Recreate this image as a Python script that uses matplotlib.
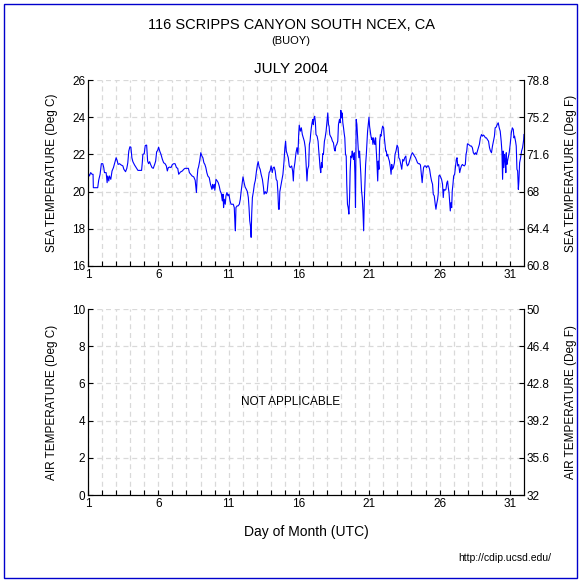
import matplotlib
matplotlib.use("Agg")
import matplotlib.pyplot as plt
import matplotlib.patches as mpatches
import numpy as np

plt.rcParams["font.family"] = ["Liberation Sans", "DejaVu Sans"]

# sea temperature (deg C), day of month (UTC)
sea_day = [
    1.00, 1.10, 1.19, 1.29, 1.36, 1.38, 1.69, 1.76, 1.86, 1.95, 2.05, 2.12, 2.17, 2.29, 2.36, 2.40,
    2.48, 2.52, 2.62, 2.71, 2.81, 2.90, 3.00, 3.07, 3.14, 3.24, 3.36, 3.48, 3.55, 3.67, 3.76, 3.83,
    3.90, 3.98, 4.05, 4.12, 4.19, 4.31, 4.43, 4.55, 4.67, 4.81, 4.86, 4.90, 5.00, 5.07, 5.17, 5.24,
    5.31, 5.38, 5.45, 5.55, 5.64, 5.74, 5.81, 5.88, 5.95, 6.02, 6.10, 6.19, 6.29, 6.38, 6.48, 6.57,
    6.64, 6.71, 6.81, 6.90, 7.00, 7.10, 7.19, 7.29, 7.38, 7.45, 7.57, 7.71, 7.81, 7.90, 8.05, 8.14,
    8.21, 8.31, 8.40, 8.52, 8.62, 8.67, 8.71, 8.76, 8.81, 8.86, 8.95, 9.02, 9.10, 9.17, 9.24, 9.31,
    9.38, 9.45, 9.52, 9.62, 9.71, 9.81, 9.86, 9.90, 9.98, 10.02, 10.10, 10.19, 10.26, 10.33, 10.40,
    10.48, 10.55, 10.60, 10.64, 10.69, 10.76, 10.81, 10.88, 10.95, 11.02, 11.10, 11.17, 11.24, 11.33,
    11.40, 11.45, 11.48, 11.52, 11.60, 11.67, 11.76, 11.83, 11.88, 11.95, 12.02, 12.10, 12.17, 12.26,
    12.33, 12.40, 12.45, 12.50, 12.55, 12.60, 12.64, 12.69, 12.76, 12.83, 12.90, 12.98, 13.05, 13.10,
    13.17, 13.24, 13.31, 13.40, 13.48, 13.52, 13.60, 13.67, 13.74, 13.81, 13.88, 13.95, 14.02, 14.10,
    14.17, 14.24, 14.31, 14.38, 14.45, 14.50, 14.55, 14.60, 14.64, 14.71, 14.79, 14.86, 14.93, 15.00,
    15.05, 15.10, 15.17, 15.24, 15.31, 15.38, 15.48, 15.55, 15.60, 15.64, 15.71, 15.79, 15.86, 15.93,
    15.98, 16.02, 16.10, 16.17, 16.24, 16.31, 16.38, 16.45, 16.52, 16.57, 16.62, 16.69, 16.74, 16.79,
    16.83, 16.88, 16.93, 16.98, 17.02, 17.07, 17.12, 17.17, 17.21, 17.29, 17.36, 17.40, 17.45, 17.50,
    17.55, 17.60, 17.64, 17.69, 17.74, 17.81, 17.86, 17.93, 18.00, 18.05, 18.10, 18.14, 18.19, 18.24,
    18.31, 18.38, 18.45, 18.52, 18.57, 18.62, 18.69, 18.76, 18.81, 18.88, 18.93, 18.98, 19.02, 19.07,
    19.12, 19.17, 19.21, 19.26, 19.31, 19.36, 19.40, 19.45, 19.50, 19.55, 19.60, 19.64, 19.69, 19.74,
    19.79, 19.83, 19.88, 19.93, 19.98, 20.02, 20.07, 20.12, 20.17, 20.21, 20.26, 20.31, 20.36, 20.40,
    20.45, 20.50, 20.55, 20.60, 20.64, 20.69, 20.74, 20.79, 20.83, 20.88, 20.93, 20.98, 21.02, 21.07,
    21.12, 21.17, 21.21, 21.26, 21.31, 21.36, 21.40, 21.45, 21.50, 21.55, 21.60, 21.64, 21.69, 21.74,
    21.79, 21.83, 21.88, 21.95, 22.02, 22.07, 22.12, 22.17, 22.21, 22.26, 22.31, 22.36, 22.43, 22.50,
    22.55, 22.60, 22.64, 22.71, 22.79, 22.83, 22.90, 22.98, 23.05, 23.10, 23.17, 23.24, 23.31, 23.38,
    23.45, 23.52, 23.60, 23.64, 23.71, 23.79, 23.86, 23.93, 24.00, 24.07, 24.14, 24.21, 24.29, 24.38,
    24.43, 24.50, 24.57, 24.64, 24.71, 24.76, 24.81, 24.86, 24.93, 25.00, 25.07, 25.14, 25.21, 25.29,
    25.36, 25.43, 25.50, 25.55, 25.62, 25.69, 25.74, 25.79, 25.86, 25.90, 25.95, 26.00, 26.07, 26.14,
    26.21, 26.26, 26.31, 26.38, 26.45, 26.52, 26.57, 26.62, 26.67, 26.71, 26.76, 26.81, 26.86, 26.90,
    26.95, 27.00, 27.07, 27.14, 27.19, 27.24, 27.29, 27.36, 27.43, 27.48, 27.55, 27.62, 27.69, 27.76,
    27.83, 27.88, 27.93, 27.98, 28.05, 28.12, 28.19, 28.26, 28.33, 28.40, 28.48, 28.55, 28.62, 28.69,
    28.76, 28.83, 28.90, 28.98, 29.05, 29.12, 29.19, 29.26, 29.33, 29.40, 29.48, 29.55, 29.62, 29.69,
    29.76, 29.83, 29.90, 29.95, 30.02, 30.10, 30.17, 30.24, 30.31, 30.38, 30.43, 30.48, 30.52, 30.57,
    30.62, 30.67, 30.71, 30.74, 30.79, 30.83, 30.88, 30.95, 31.02, 31.10, 31.17, 31.24, 31.29, 31.33,
    31.40, 31.45, 31.50, 31.55, 31.60, 31.64, 31.69, 31.76, 31.83, 31.90, 31.98, 32.00,
]
sea_temp = [
    21.02, 20.84, 21.02, 20.93, 20.93, 20.21, 20.21, 20.61, 20.93, 21.50, 21.50, 21.29, 21.02, 21.02, 20.48, 20.84,
    20.57, 20.84, 20.66, 21.11, 21.29, 21.55, 21.82, 21.68, 21.46, 21.50, 21.43, 21.38, 21.20, 21.07, 21.25, 21.55,
    22.18, 22.41, 22.39, 21.82, 21.61, 21.43, 21.29, 21.14, 21.14, 21.14, 21.55, 22.00, 22.04, 22.48, 22.50, 21.64,
    21.50, 21.61, 21.46, 21.29, 21.25, 21.46, 21.64, 22.14, 22.21, 22.39, 22.18, 22.00, 21.73, 21.55, 21.50, 21.38,
    21.11, 21.29, 21.32, 21.29, 21.46, 21.50, 21.50, 21.29, 21.25, 20.93, 21.05, 21.11, 21.20, 21.25, 21.25, 21.25,
    21.02, 20.93, 20.84, 20.79, 20.61, 20.21, 19.95, 20.75, 21.20, 21.32, 21.68, 22.09, 21.91, 21.82, 21.55, 21.46,
    21.29, 21.02, 20.84, 20.75, 20.39, 20.12, 20.39, 20.18, 20.39, 20.07, 20.66, 20.57, 20.48, 20.30, 20.04,
    19.89, 19.50, 19.86, 19.14, 19.59, 19.32, 19.77, 19.95, 19.77, 19.86, 19.50, 19.32, 19.32, 19.32,
    19.14, 18.25, 17.89, 19.14, 19.23, 19.23, 19.32, 19.59, 19.95, 20.39, 20.79, 20.48, 20.25, 20.12,
    20.00, 19.68, 19.14, 18.43, 18.16, 17.54, 18.79, 19.68, 20.00, 20.39, 20.61, 21.11, 21.46, 21.61,
    21.32, 21.20, 20.93, 20.66, 20.21, 19.86, 20.00, 19.89, 20.00, 20.57, 21.02, 21.11, 21.38, 21.02,
    21.29, 21.32, 21.11, 20.66, 20.57, 20.00, 19.05, 19.05, 20.00, 20.30, 20.66, 20.93, 21.55, 22.36,
    22.71, 22.18, 22.00, 21.82, 21.38, 21.29, 21.38, 21.11, 20.57, 21.20, 21.55, 22.09, 22.36, 22.00,
    23.07, 23.57, 23.25, 23.43, 23.07, 22.89, 22.71, 22.36, 21.29, 20.57, 21.20, 21.38, 22.54, 22.71,
    23.07, 23.43, 23.70, 23.88, 23.61, 23.96, 24.05, 23.70, 23.07, 22.98, 22.71, 22.27, 21.82, 21.29,
    21.02, 21.55, 21.29, 22.04, 22.00, 22.71, 22.89, 23.25, 23.79, 24.23, 23.61, 23.52, 23.07, 22.98,
    22.89, 22.71, 22.63, 22.27, 22.18, 22.45, 22.54, 22.71, 23.61, 23.88, 23.70, 24.37, 23.96, 24.23,
    23.70, 23.43, 23.16, 22.89, 22.00, 21.91, 20.39, 19.32, 19.14, 18.79, 19.68, 21.11, 21.91, 21.82,
    22.18, 21.91, 21.73, 22.09, 20.93, 19.14, 23.88, 23.61, 22.89, 22.36, 21.82, 22.18, 21.46, 20.93,
    20.04, 19.68, 18.96, 17.89, 19.32, 20.39, 21.46, 22.00, 22.54, 23.25, 23.61, 24.00, 23.52, 23.25,
    22.98, 22.80, 22.89, 22.54, 22.89, 22.63, 22.54, 22.89, 22.18, 21.46, 20.57, 21.64, 21.20, 22.71,
    23.07, 22.98, 23.25, 23.52, 23.43, 22.89, 22.54, 22.18, 22.18, 21.91, 22.00, 21.82, 21.64, 21.29,
    20.93, 21.46, 21.20, 21.29, 21.55, 22.00, 22.18, 22.50, 22.36, 21.82, 21.73, 21.46, 21.20, 21.73,
    21.64, 21.82, 21.91, 21.55, 21.38, 21.46, 21.64, 21.82, 22.00, 22.09, 22.00, 21.91, 21.82, 21.64,
    21.55, 21.50, 21.50, 21.43, 20.84, 20.48, 20.93, 21.29, 21.38, 21.38, 21.29, 21.38, 21.38, 21.20,
    20.84, 20.57, 20.39, 19.86, 19.77, 19.32, 19.05, 19.32, 19.59, 19.86, 20.84, 20.89, 20.79, 20.66,
    20.39, 19.68, 20.12, 20.07, 20.12, 20.48, 20.57, 20.21, 19.95, 19.50, 18.96, 19.41, 19.14, 20.04,
    20.39, 20.84, 20.93, 21.38, 21.73, 21.82, 21.38, 21.46, 21.02, 21.20, 21.38, 21.46, 21.41, 21.38,
    21.46, 22.00, 22.18, 22.57, 22.54, 22.50, 22.45, 22.45, 22.36, 22.09, 22.00, 22.09, 22.00, 22.18,
    22.36, 22.54, 22.89, 23.07, 22.98, 23.04, 22.98, 22.89, 22.89, 22.80, 22.71, 22.36, 22.18, 22.09,
    22.45, 22.71, 22.98, 23.43, 23.46, 23.61, 23.70, 23.43, 23.25, 22.71, 22.18, 20.66, 22.18, 21.29,
    22.00, 21.64, 21.02, 22.09, 21.46, 21.64, 21.82, 22.09, 22.54, 23.16, 23.43, 23.34, 22.89, 22.98,
    22.71, 22.45, 21.20, 21.11, 20.12, 20.57, 21.55, 21.82, 22.18, 22.36, 22.80, 23.07,
]

day_ticks = [1, 6, 11, 16, 21, 26, 31]
sea_c_ticks = [16, 18, 20, 22, 24, 26]
air_c_ticks = [0, 2, 4, 6, 8, 10]


def c_to_f_labels(ticks):
    labels = []
    for t in ticks:
        f = t * 1.8 + 32
        labels.append(("%.1f" % f).rstrip("0").rstrip("."))
    return labels


def style_axes(ax, c_ticks, left_label, right_label):
    ax.set_xlim(1, 32)
    ax.set_ylim(c_ticks[0], c_ticks[-1])
    ax.set_xticks(day_ticks)
    ax.set_xticks(np.arange(2, 32), minor=True)
    ax.set_yticks(c_ticks)
    ax.grid(True, which="both", axis="x", color="#d9d9d9", linestyle=(0, (4, 3)), linewidth=0.9)
    ax.grid(True, which="major", axis="y", color="#d9d9d9", linestyle=(0, (4, 3)), linewidth=0.9)
    ax.set_axisbelow(True)
    ax.spines["top"].set_visible(False)
    ax.tick_params(which="both", direction="in", length=3.5, width=0.8, labelsize=8.5, pad=2)
    ax.set_ylabel(left_label, fontsize=8.5, labelpad=10)

    ax2 = ax.twinx()
    ax2.set_ylim(c_ticks[0], c_ticks[-1])
    ax2.set_yticks(c_ticks)
    ax2.set_yticklabels(c_to_f_labels(c_ticks))
    ax2.spines["top"].set_visible(False)
    ax2.tick_params(direction="in", length=3.5, width=0.8, labelsize=8.5, pad=2)
    ax2.set_ylabel(right_label, fontsize=8.5, labelpad=11)


def plot_sea_air():
    fig = plt.figure(figsize=(5.82, 5.81), dpi=100)
    ax_sea = fig.add_axes([0.1512, 0.5422, 0.7491, 0.3201])
    ax_air = fig.add_axes([0.1512, 0.1480, 0.7491, 0.3201])

    ax_sea.plot(sea_day, sea_temp, color="#0000ff", linewidth=0.8)
    style_axes(ax_sea, sea_c_ticks, "SEA TEMPERATURE (Deg C)", "SEA TEMPERATURE (Deg F)")
    style_axes(ax_air, air_c_ticks, "AIR TEMPERATURE (Deg C)", "AIR TEMPERATURE (Deg F)")

    ax_air.text(0.464, 0.5, "NOT APPLICABLE", transform=ax_air.transAxes,
                ha="center", va="center", fontsize=8.5)
    ax_air.set_xlabel("Day of Month (UTC)", fontsize=10, labelpad=11)

    fig.text(0.5, 1 - 25 / 581, "116 SCRIPPS CANYON SOUTH NCEX, CA", ha="center", va="center", fontsize=10.5)
    fig.text(0.5, 1 - 41 / 581, "(BUOY)", ha="center", va="center", fontsize=8)
    fig.text(0.5, 1 - 69 / 581, "JULY 2004", ha="center", va="center", fontsize=11)
    fig.text(0.948, 1 - 558 / 581, "http://cdip.ucsd.edu/", ha="right", va="center", fontsize=7.5)

    # blue frame round the whole picture
    fig.patches.append(mpatches.Rectangle((4 / 582, 3 / 581), 573 / 582, 574 / 581,
                                          transform=fig.transFigure, fill=False,
                                          edgecolor="#0000cc", linewidth=1.0))
    fig.savefig("out.png", dpi=100)


if __name__ == "__main__":
    plot_sea_air()
